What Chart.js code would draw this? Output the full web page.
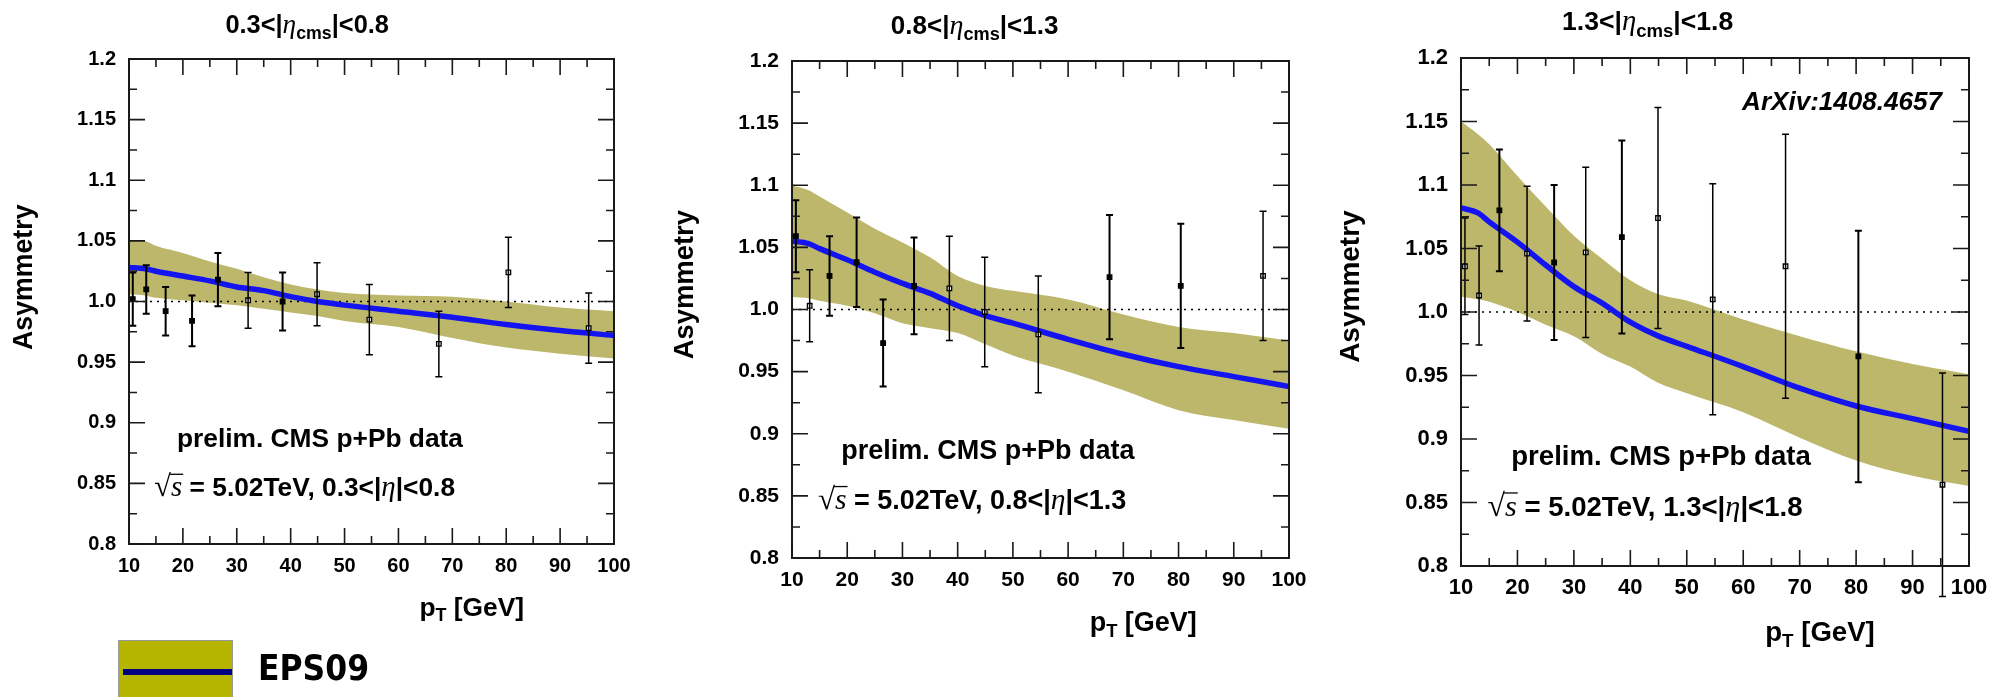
<!DOCTYPE html>
<html>
<head>
<meta charset="utf-8">
<title>EPS09 asymmetry vs CMS p+Pb</title>
<script src="https://cdn.jsdelivr.net/npm/chart.js@4.4.0/dist/chart.umd.min.js"></script>
<style>
    html, body { margin: 0; padding: 0; background: #fff; }
    body { width: 2005px; height: 697px; position: relative; overflow: hidden; }
    canvas.panel { position: absolute; top: 0; }
    #legend-box {
        position: absolute; left: 118px; top: 640px; width: 115px; height: 70px;
        background: #b5b500; border: 1px solid #999; box-sizing: border-box;
    }
    #legend-line {
        position: absolute; left: 4px; right: 0; top: 28px; height: 6px; background: #000080;
    }
    #legend-text {
        position: absolute; left: 258px; top: 646px; line-height: 44px;
        font-family: "DejaVu Sans Condensed", "Liberation Sans Narrow", "DejaVu Sans", sans-serif;
        font-stretch: condensed; font-weight: bold; font-size: 35px; color: #000;
    }
</style>
</head>
<body>
<canvas id="c1" class="panel"></canvas>
<canvas id="c2" class="panel"></canvas>
<canvas id="c3" class="panel"></canvas>
<div id="legend-box"><div id="legend-line"></div></div>
<div id="legend-text">EPS09</div>

<script>
// ---------- datos ----------
const ptBins = [10.7, 13.2, 16.8, 21.7, 26.5, 32.1, 38.5, 44.9, 54.6, 67.5, 80.4, 95.3];

// CMS preliminar, asimetría por bin de eta
const asym03 = [1.002, 1.010, 0.992, 0.984, 1.018, 1.001, 1.000, 1.006, 0.985, 0.965, 1.024, 0.978];
const err03  = [0.022, 0.020, 0.020, 0.021, 0.022, 0.023, 0.024, 0.026, 0.029, 0.027, 0.029, 0.029];
const solid03 = [1, 1, 1, 1, 1, 0, 1, 0, 0, 0, 0, 0];

const asym08 = [1.059, 1.003, 1.027, 1.038, 0.973, 1.019, 1.017, 0.998, 0.980, 1.026, 1.019, 1.027];
const err08  = [0.029, 0.029, 0.032, 0.036, 0.035, 0.039, 0.042, 0.044, 0.047, 0.050, 0.050, 0.052];
const solid08 = [1, 0, 1, 1, 1, 1, 0, 0, 0, 1, 1, 0];

const asym13 = [1.036, 1.013, 1.080, 1.046, 1.039, 1.047, 1.059, 1.074, 1.010, 1.036, 0.965, 0.864];
const err13  = [0.038, 0.039, 0.048, 0.053, 0.061, 0.067, 0.076, 0.087, 0.091, 0.104, 0.099, 0.088];
const solid13 = [0, 0, 1, 0, 1, 0, 1, 0, 0, 0, 1, 0];

// banda EPS09 (central, superior, inferior)
const eps09Pt = [10, 13, 15, 20, 25, 30, 35, 40, 45, 50, 60, 70, 80, 90, 100];

const eps09Mid03 = [1.028, 1.027, 1.025, 1.021, 1.017, 1.012, 1.009, 1.004, 1.000, 0.997, 0.992, 0.987, 0.981, 0.976, 0.972];
const eps09Up03  = [1.051, 1.050, 1.046, 1.040, 1.033, 1.027, 1.020, 1.014, 1.010, 1.007, 1.005, 1.004, 1.000, 0.995, 0.992];
const eps09Lo03  = [1.006, 1.005, 1.003, 1.001, 0.999, 0.997, 0.994, 0.991, 0.988, 0.984, 0.979, 0.970, 0.962, 0.957, 0.953];

const eps09Mid08 = [1.055, 1.053, 1.049, 1.040, 1.030, 1.021, 1.013, 1.003, 0.995, 0.989, 0.976, 0.964, 0.954, 0.946, 0.938];
const eps09Up08  = [1.100, 1.096, 1.091, 1.078, 1.065, 1.054, 1.042, 1.027, 1.019, 1.015, 1.008, 0.996, 0.986, 0.981, 0.975];
const eps09Lo08  = [1.010, 1.009, 1.007, 1.003, 0.997, 0.989, 0.985, 0.981, 0.972, 0.963, 0.950, 0.935, 0.919, 0.911, 0.904];

const eps09Mid13 = [1.082, 1.078, 1.071, 1.055, 1.037, 1.020, 1.007, 0.992, 0.981, 0.973, 0.957, 0.940, 0.926, 0.916, 0.906];
const eps09Up13  = [1.150, 1.140, 1.132, 1.107, 1.083, 1.060, 1.042, 1.025, 1.014, 1.009, 0.994, 0.981, 0.969, 0.959, 0.951];
const eps09Lo13  = [1.012, 1.010, 1.008, 1.000, 0.990, 0.981, 0.967, 0.957, 0.944, 0.936, 0.921, 0.901, 0.883, 0.871, 0.863];

// ejes
const xTickValues = [10, 20, 30, 40, 50, 60, 70, 80, 90, 100];
const xTickLabels = ['10', '20', '30', '40', '50', '60', '70', '80', '90', '100'];
const yTickValues = [0.8, 0.85, 0.9, 0.95, 1.0, 1.05, 1.1, 1.15, 1.2];
const yTickLabels = ['0.8', '0.85', '0.9', '0.95', '1.0', '1.05', '1.1', '1.15', '1.2'];
const unity = 1.0;

const etaLow  = ['0.3', '0.8', '1.3'];
const etaHigh = ['0.8', '1.3', '1.8'];

// ---------- geometría de cada panel ----------
const panels = [
    { id: 'c1', canvasLeft: 0,    canvasWidth: 650, frameLeft: 129, frameTop: 59, size: 485, tick: 20,
      asym: asym03, err: err03, solid: solid03, mid: eps09Mid03, up: eps09Up03, lo: eps09Lo03, arxiv: false },
    { id: 'c2', canvasLeft: 650,  canvasWidth: 680, frameLeft: 792, frameTop: 61, size: 497, tick: 21,
      asym: asym08, err: err08, solid: solid08, mid: eps09Mid08, up: eps09Up08, lo: eps09Lo08, arxiv: false },
    { id: 'c3', canvasLeft: 1330, canvasWidth: 675, frameLeft: 1461, frameTop: 58, size: 508, tick: 22,
      asym: asym13, err: err13, solid: solid13, mid: eps09Mid13, up: eps09Up13, lo: eps09Lo13, arxiv: true }
];

const H = 697;
const X_AXIS_H = 40;
const sans = '"Liberation Sans", Arial, Helvetica, sans-serif';
const serif = '"Liberation Serif", "DejaVu Serif", serif';
const B = s => `bold ${s}px ${sans}`;
const I = s => `italic ${s}px ${serif}`;

function drawRich(ctx, parts, x, baseline) {
    let cx = x;
    parts.forEach(p => {
        ctx.font = p.f;
        const w = ctx.measureText(p.t).width;
        ctx.fillText(p.t, cx, baseline + (p.dy || 0));
        if (p.over) {
            // barra del radical sobre la s
            ctx.save();
            ctx.lineWidth = p.over.w;
            ctx.beginPath();
            ctx.moveTo(cx - 1, baseline - p.over.h);
            ctx.lineTo(cx + w + 1, baseline - p.over.h);
            ctx.stroke();
            ctx.restore();
        }
        cx += w;
    });
}

// ticks hacia dentro en los cuatro lados, marco, barras de error y textos
const rootStyle = {
    id: 'rootStyle',
    afterDatasetsDraw(chart, args, opts) {
        const p = opts.panel;
        const xs = chart.scales.x, ys = chart.scales.y;
        const ctx = chart.ctx;
        ctx.save();
        ctx.strokeStyle = '#000';
        ptBins.forEach((pt, i) => {
            const px = xs.getPixelForValue(pt);
            const yTop = ys.getPixelForValue(p.asym[i] + p.err[i]);
            const yBot = ys.getPixelForValue(p.asym[i] - p.err[i]);
            ctx.lineWidth = p.solid[i] ? 2 : 1.5;
            ctx.beginPath();
            ctx.moveTo(px, yTop); ctx.lineTo(px, yBot);
            ctx.moveTo(px - 3.5, yTop); ctx.lineTo(px + 3.5, yTop);
            ctx.moveTo(px - 3.5, yBot); ctx.lineTo(px + 3.5, yBot);
            ctx.stroke();
        });
        ctx.restore();
    },
    afterDraw(chart, args, opts) {
        const p = opts.panel;
        const k = p.size / 497;
        const ctx = chart.ctx;
        const a = chart.chartArea;
        const xs = chart.scales.x, ys = chart.scales.y;

        ctx.save();
        ctx.strokeStyle = '#1a1a1a';
        ctx.lineWidth = 2;
        ctx.strokeRect(a.left, a.top, a.right - a.left, a.bottom - a.top);

        ctx.lineWidth = 1.6;
        ctx.beginPath();
        const majorLen = 16, minorLen = 8;
        xTickValues.forEach((v, i) => {
            const px = xs.getPixelForValue(v);
            ctx.moveTo(px, a.bottom); ctx.lineTo(px, a.bottom - majorLen);
            ctx.moveTo(px, a.top); ctx.lineTo(px, a.top + majorLen);
            if (i > 0) {
                const pm = xs.getPixelForValue((v + xTickValues[i - 1]) / 2);
                ctx.moveTo(pm, a.bottom); ctx.lineTo(pm, a.bottom - minorLen);
                ctx.moveTo(pm, a.top); ctx.lineTo(pm, a.top + minorLen);
            }
        });
        yTickValues.forEach((v, i) => {
            const py = ys.getPixelForValue(v);
            ctx.moveTo(a.left, py); ctx.lineTo(a.left + majorLen, py);
            ctx.moveTo(a.right, py); ctx.lineTo(a.right - majorLen, py);
            if (i > 0) {
                const pm = ys.getPixelForValue((v + yTickValues[i - 1]) / 2);
                ctx.moveTo(a.left, pm); ctx.lineTo(a.left + minorLen, pm);
                ctx.moveTo(a.right, pm); ctx.lineTo(a.right - minorLen, pm);
            }
        });
        ctx.stroke();

        // textos
        ctx.fillStyle = '#000';
        ctx.strokeStyle = '#000';
        ctx.textAlign = 'left';
        ctx.textBaseline = 'alphabetic';
        const lo = etaLow[opts.index], hi = etaHigh[opts.index];

        // título
        const tSize = 26 * k;
        drawRich(ctx, [
            { t: lo + '<|', f: B(tSize) },
            { t: 'η', f: I(tSize * 1.08) },
            { t: 'cms', f: B(tSize * 0.7), dy: 6 * k },
            { t: '|<' + hi, f: B(tSize) }
        ], xs.getPixelForValue(27.9), a.top - 0.073 * p.size + 0.36 * tSize);

        // leyenda de los datos
        const dSize = 27 * k;
        drawRich(ctx, [{ t: 'prelim. CMS p+Pb data', f: B(dSize) }],
            xs.getPixelForValue(18.9), ys.getPixelForValue(0.8875) + 0.36 * dSize);
        drawRich(ctx, [
            { t: '√', f: `${dSize * 1.15}px ${serif}` },
            { t: 's', f: I(dSize * 1.1), over: { h: dSize * 0.82, w: 1.3 } },
            { t: ' = 5.02TeV, ' + lo + '<|', f: B(dSize) },
            { t: 'η', f: I(dSize * 1.1) },
            { t: '|<' + hi, f: B(dSize) }
        ], xs.getPixelForValue(14.7), ys.getPixelForValue(0.8475) + 0.36 * dSize);

        if (p.arxiv) {
            const aSize = 25.5 * k;
            drawRich(ctx, [{ t: 'ArXiv:1408.4657', f: `italic bold ${aSize}px ${sans}` }],
                xs.getPixelForValue(59.8), ys.getPixelForValue(1.1665) + 0.36 * aSize);
        }

        // título eje x
        const pSize = 27 * k;
        drawRich(ctx, [
            { t: 'p', f: B(pSize) },
            { t: 'T', f: B(pSize * 0.68), dy: 6 * k },
            { t: ' [GeV]', f: B(pSize) }
        ], xs.getPixelForValue(63.9), a.bottom + 0.128 * p.size + 0.36 * pSize);

        // título eje y
        ctx.save();
        ctx.translate(a.left - 107 * k, a.top + 0.45 * p.size);
        ctx.rotate(-Math.PI / 2);
        ctx.textAlign = 'center';
        ctx.textBaseline = 'middle';
        ctx.font = B(27.4 * k);
        ctx.fillText('Asymmetry', 0, 0);
        ctx.restore();

        ctx.restore();
    }
};

function crearPanel(p, index) {
    const canvas = document.getElementById(p.id);
    canvas.width = p.canvasWidth;
    canvas.height = H;
    canvas.style.left = p.canvasLeft + 'px';

    const yAxisW = p.frameLeft - p.canvasLeft;
    const tickFont = { family: sans, size: p.tick, weight: 'bold' };

    const toXY = (xs, ys) => xs.map((x, i) => ({ x: x, y: ys[i] }));

    return new Chart(canvas.getContext('2d'), {
        type: 'line',
        data: {
            datasets: [
                {
                    label: 'EPS09 upper',
                    data: toXY(eps09Pt, p.up),
                    borderWidth: 0,
                    pointRadius: 0,
                    backgroundColor: '#bdb76b',
                    fill: '+1',
                    cubicInterpolationMode: 'monotone',
                    order: 5
                },
                {
                    label: 'EPS09 lower',
                    data: toXY(eps09Pt, p.lo),
                    borderWidth: 0,
                    pointRadius: 0,
                    fill: false,
                    cubicInterpolationMode: 'monotone',
                    order: 4
                },
                {
                    label: 'unity',
                    data: [{ x: xTickValues[0], y: unity }, { x: xTickValues[xTickValues.length - 1], y: unity }],
                    borderColor: '#000',
                    borderWidth: 1.5,
                    borderDash: [2, 5],
                    pointRadius: 0,
                    fill: false,
                    order: 3
                },
                {
                    label: 'EPS09',
                    data: toXY(eps09Pt, p.mid),
                    borderColor: '#1414f0',
                    borderWidth: 5.5,
                    pointRadius: 0,
                    fill: false,
                    cubicInterpolationMode: 'monotone',
                    order: 2
                },
                {
                    label: 'CMS',
                    type: 'scatter',
                    data: toXY(ptBins, p.asym),
                    pointStyle: 'rect',
                    pointRadius: 3.2,
                    pointBorderWidth: 1.3,
                    pointBorderColor: '#000',
                    pointBackgroundColor: p.solid.map(s => s ? '#000' : '#fff'),
                    showLine: false,
                    order: 1
                }
            ]
        },
        options: {
            responsive: false,
            animation: false,
            events: [],
            layout: {
                padding: {
                    left: 0,
                    top: p.frameTop,
                    right: p.canvasWidth - yAxisW - p.size,
                    bottom: H - p.frameTop - p.size - X_AXIS_H
                }
            },
            scales: {
                x: {
                    type: 'linear',
                    min: 10,
                    max: 100,
                    afterBuildTicks: s => { s.ticks = xTickValues.map(v => ({ value: v })); },
                    afterFit: s => { s.height = X_AXIS_H; },
                    grid: { display: false, drawTicks: false },
                    border: { display: false },
                    ticks: {
                        callback: (v, i) => xTickLabels[i],
                        font: tickFont,
                        color: '#000',
                        padding: 22 - 0.6 * p.tick,
                        maxRotation: 0,
                        autoSkip: false
                    }
                },
                y: {
                    type: 'linear',
                    min: 0.8,
                    max: 1.2,
                    afterBuildTicks: s => { s.ticks = yTickValues.map(v => ({ value: v })); },
                    afterFit: s => { s.width = yAxisW; },
                    grid: { display: false, drawTicks: false },
                    border: { display: false },
                    ticks: {
                        callback: (v, i) => yTickLabels[i],
                        font: tickFont,
                        color: '#000',
                        padding: 13,
                        autoSkip: false
                    }
                }
            },
            plugins: {
                legend: { display: false },
                tooltip: { enabled: false },
                rootStyle: { panel: p, index: index }
            }
        },
        plugins: [rootStyle]
    });
}

panels.forEach((p, i) => crearPanel(p, i));
</script>
</body>
</html>
